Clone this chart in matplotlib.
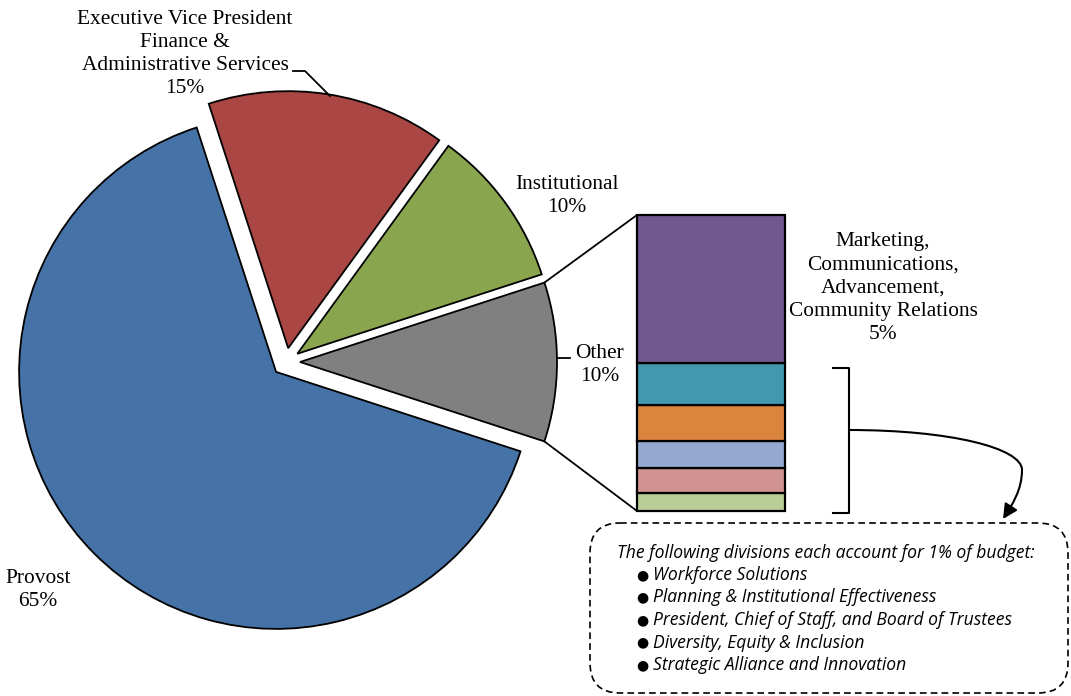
import numpy as np
import matplotlib
matplotlib.use("Agg")
import matplotlib.pyplot as plt
from matplotlib.patches import ConnectionPatch, FancyBboxPatch, FancyArrowPatch
from matplotlib.path import Path

# ---- data ----
pie_labels = ["Provost", "Executive Vice President\nFinance &\nAdministrative Services", "Institutional", "Other"]
pie_values = [65, 15, 10, 10]
pie_colors = ["#4572A7", "#AA4643", "#89A54E", "#808080"]

bar_labels = ["Strategic Alliance and Innovation", "Diversity, Equity & Inclusion",
              "President, Chief of Staff, and Board of Trustees",
              "Planning & Institutional Effectiveness", "Workforce Solutions",
              "Marketing,\nCommunications,\nAdvancement,\nCommunity Relations"]
bar_values = [0.62, 0.83, 0.90, 1.24, 1.41, 5.0]
bar_colors = ["#B9CD96", "#D19392", "#93A9CF", "#DB843D", "#4198AF", "#71588F"]

box_title = "The following divisions each account for 1% of budget:"
box_items = ["Workforce Solutions", "Planning & Institutional Effectiveness",
             "President, Chief of Staff, and Board of Trustees",
             "Diversity, Equity & Inclusion", "Strategic Alliance and Innovation"]

W, H = 1071, 696
fig = plt.figure(figsize=(W / 100, H / 100), dpi=100)
fig.patch.set_facecolor("white")

serif = "Liberation Serif"
FS = 15.4

# ---- pie ----
cx_px, cy_px, r_px = 286, 362, 257
ax = fig.add_axes([0, 0, 1, 1])
wedges, _ = ax.pie(pie_values, colors=pie_colors, startangle=-18, counterclock=False,
                   explode=[14 / r_px] * 4, radius=1,
                   wedgeprops=dict(edgecolor="black", linewidth=1.3))
ax.set_aspect("auto")
ax.set_xlim(-cx_px / r_px, (W - cx_px) / r_px)
ax.set_ylim((cy_px - H) / r_px, cy_px / r_px)
ax.axis("off")

# ---- bar ----
bx0, bx1, by_top, by_bot = 637, 785, 215, 511
axb = fig.add_axes([bx0 / W, (H - by_bot) / H, (bx1 - bx0) / W, (by_bot - by_top) / H])
bottom = 0
for v, c in zip(bar_values, bar_colors):
    axb.bar(0, v, width=1, bottom=bottom, color=c, edgecolor="black", linewidth=1.6, clip_on=False)
    bottom += v
axb.set_xlim(-0.5, 0.5)
axb.set_ylim(0, sum(bar_values))
axb.axis("off")

# connector lines between 'Other' wedge and bar
wo = wedges[3]
(ox, oy) = wo.center
for ang, corner in [(wo.theta2, (0, 1)), (wo.theta1, (0, 0))]:
    a = np.deg2rad(ang)
    cp = ConnectionPatch(xyA=(ox + np.cos(a), oy + np.sin(a)), coordsA=ax.transData,
                         xyB=corner, coordsB=axb.transAxes, color="black", lw=1.3)
    fig.add_artist(cp)

# ---- annotation overlay (pixel coords) ----
an = fig.add_axes([0, 0, 1, 1], facecolor="none")
an.set_xlim(0, W)
an.set_ylim(H, 0)
an.axis("off")

def label(x, y, s):
    an.text(x, y, s, ha="center", va="center", family=serif, fontsize=FS, linespacing=1.29)

label(185, 54, pie_labels[1] + "\n15%")
an.plot([293, 305, 330], [71, 71, 96], color="black", lw=1.3)
label(567, 196, pie_labels[2] + "\n10%")
label(600, 365, pie_labels[3] + "\n10%")
an.plot([557, 570], [358, 358], color="black", lw=1.3)
label(883, 288, bar_labels[5] + "\n5%")
label(38, 590, pie_labels[0] + "\n65%")

# bracket
an.plot([833, 849, 849, 833], [368, 368, 513, 513], color="black", lw=1.5, solid_joinstyle="round")

# curved arrow
verts = [(849, 430), (950, 430), (1022, 448), (1022, 470),
         (1022, 490), (1012, 505), (1003, 519)]
codes = [Path.MOVETO, Path.CURVE4, Path.CURVE4, Path.CURVE4, Path.CURVE4, Path.CURVE4, Path.CURVE4]
arr = FancyArrowPatch(path=Path(verts, codes), arrowstyle="-|>", mutation_scale=22,
                      color="black", lw=1.5)
an.add_patch(arr)

# dashed box
box = FancyBboxPatch((590, 523), 478, 170, boxstyle="round,pad=0,rounding_size=30",
                     fill=False, edgecolor="black", lw=1.2, linestyle=(0, (4, 2.5)))
an.add_patch(box)

sans = "Open Sans"
t = an.text(617, 553, box_title, ha="left", va="center", family=sans, style="italic", fontsize=11)
fig.canvas.draw()
bb = t.get_window_extent()
fs2 = 11 * 418 / bb.width
t.set_fontsize(fs2)
ys = [575, 597.5, 620, 642.5, 665]
for y, s in zip(ys, box_items):
    an.text(642, y, "●", ha="center", va="center", family="DejaVu Sans", fontsize=fs2 * 0.8)
    an.text(653, y, s, ha="left", va="center", family=sans, style="italic", fontsize=fs2)

fig.savefig("out.png", dpi=100, facecolor="white")
